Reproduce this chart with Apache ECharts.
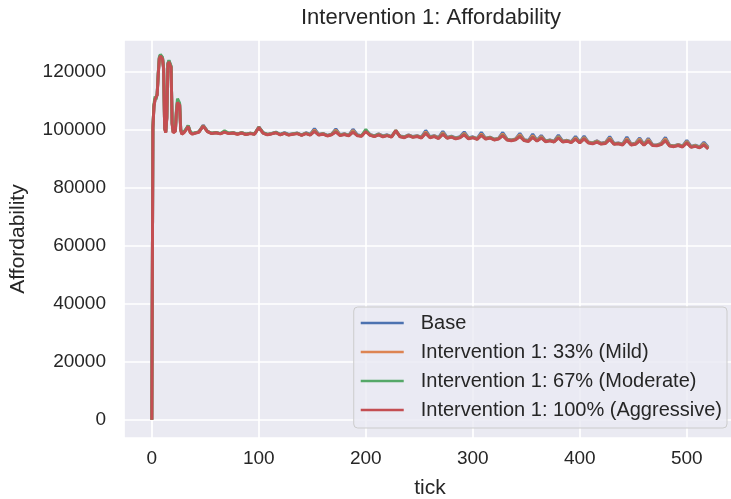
<!DOCTYPE html>
<html>
<head>
<meta charset="utf-8">
<script src="https://cdn.jsdelivr.net/npm/echarts@6/dist/echarts.min.js"></script>
<style>
  html, body { margin: 0; padding: 0; background: #fff; }
  #chart { width: 731px; height: 499px; }
</style>
</head>
<body>
<div id="chart"></div>
<script>
// tick values (x), dense at the start where the spikes are
const ticks = [
  0, 1, 2, 3, 4, 5, 6, 7, 8, 9, 10, 11, 12, 13, 14, 15, 16, 17, 18, 19,
  20, 21, 22, 23, 24, 25, 26, 27, 28, 30, 32, 34, 36, 38,
  40, 44, 48, 52, 56, 60, 64, 68, 72, 76,
  80, 84, 88, 92, 96, 100, 104, 108, 112, 116,
  120, 124, 128, 132, 136, 140, 144, 148, 152, 156,
  160, 164, 168, 172, 176, 180, 184, 188, 192, 196,
  200, 204, 208, 212, 216, 220, 224, 228, 232, 236,
  240, 244, 248, 252, 256, 260, 264, 268, 272, 276,
  280, 284, 288, 292, 296, 300, 304, 308, 312, 316,
  320, 324, 328, 332, 336, 340, 344, 348, 352, 356,
  360, 364, 368, 372, 376, 380, 384, 388, 392, 396,
  400, 404, 408, 412, 416, 420, 424, 428, 432, 436,
  440, 444, 448, 452, 456, 460, 464, 468, 472, 476,
  480, 484, 488, 492, 496, 500, 504, 508, 512, 516,
  520
];

const base = [
  0, 100800, 108300, 110300, 110200, 112300, 119300, 124800, 125800, 125300,
  124800, 121300, 100800, 99200, 104300, 122800, 123800, 123300, 121800, 102300,
  99200, 99700, 99700, 106300, 109700, 109300, 108800, 100200, 98700,
  99200, 100200, 101400, 99200, 98700,
  98900, 99300, 101600, 99500, 98800, 99100, 98700, 99300, 98800, 99000,
  98600, 99000, 98500, 98800, 98600, 101000, 99000, 98400, 98800, 99200,
  98400, 99000, 98400, 98700, 98900, 98300, 99000, 98400, 100400, 98400,
  98800, 98100, 98500, 100300, 98300, 98700, 98100, 100200, 98300, 98000,
  99700, 98400, 97900, 98600, 97900, 98300, 97700, 99500, 97900, 97600,
  98300, 97700, 98000, 97500, 99800, 97600, 98000, 97300, 99500, 97400,
  97800, 97200, 97600, 99300, 97200, 97600, 97000, 99100, 97100, 97500,
  96800, 97100, 99100, 96800, 96500, 96900, 98800, 96600, 96300, 98500,
  96400, 98100, 96200, 96500, 96100, 98200, 96100, 96400, 95900, 97700,
  95800, 97800, 95800, 95500, 96200, 95400, 95700, 97700, 95300, 95500,
  95100, 97500, 95100, 95400, 97200, 95000, 97100, 94900, 94800, 95300,
  97400, 94700, 94500, 95000, 94400, 96400, 94300, 94700, 94100, 95700,
  94000
];

const mild = [
  0, 100700, 108200, 110600, 110100, 112200, 119200, 124700, 125700, 125200,
  124700, 121200, 100600, 99100, 104200, 122700, 123700, 123200, 121700, 102200,
  99100, 99600, 99600, 106200, 109600, 109200, 108700, 100100, 98600,
  99100, 100100, 101300, 99100, 98600,
  98900, 99300, 101500, 99400, 98800, 99000, 98700, 99200, 98800, 98900,
  98500, 99000, 98400, 98800, 98500, 100900, 98900, 98400, 98700, 99100,
  98300, 98900, 98300, 98600, 98800, 98200, 98900, 98300, 100000, 98300,
  98700, 98000, 98400, 99900, 98200, 98600, 98000, 99800, 98100, 97900,
  99600, 98300, 97800, 98500, 97800, 98200, 97600, 99600, 97800, 97500,
  98200, 97600, 97900, 97400, 99300, 97500, 97900, 97200, 99000, 97300,
  97700, 97100, 97500, 98800, 97100, 97500, 96900, 98600, 97000, 97400,
  96700, 97000, 98600, 96700, 96400, 96800, 98300, 96500, 96200, 98000,
  96300, 97700, 96100, 96400, 96000, 97700, 96000, 96300, 95800, 97300,
  95700, 97400, 95700, 95400, 96100, 95300, 95600, 97200, 95200, 95400,
  95000, 97000, 95000, 95300, 96800, 94900, 96700, 94800, 94700, 95200,
  96900, 94600, 94400, 94900, 94300, 96000, 94200, 94600, 94000, 95300,
  93800
];

const moderate = [
  0, 101000, 108800, 111500, 110500, 112600, 119600, 125000, 126000, 125500,
  125000, 121500, 100700, 99300, 104600, 123000, 124000, 123500, 122000, 102400,
  99300, 99800, 99800, 107000, 110800, 110000, 109200, 100300, 98800,
  99300, 100300, 101500, 99300, 98800,
  98900, 99300, 101400, 99500, 98800, 99100, 98700, 99700, 98800, 99000,
  98600, 99000, 98500, 98800, 98600, 100900, 99000, 98400, 98700, 99100,
  98400, 98900, 98300, 98600, 98800, 98200, 98800, 98300, 99600, 98300,
  98600, 98000, 98400, 99400, 98100, 98500, 98000, 99300, 98100, 97900,
  100200, 98200, 97800, 98400, 97700, 98100, 97600, 99800, 97700, 97400,
  98100, 97500, 97800, 97300, 98900, 97400, 97800, 97100, 98600, 97200,
  97600, 97000, 97400, 98400, 97000, 97400, 96800, 98200, 96900, 97300,
  96600, 96900, 98100, 96600, 96300, 96700, 97800, 96400, 96100, 97500,
  96200, 97300, 96000, 96300, 95900, 97300, 95900, 96200, 95700, 96900,
  95600, 97000, 95600, 95300, 95900, 95200, 95400, 96800, 95100, 95300,
  94900, 96500, 94900, 95100, 96300, 94800, 96200, 94700, 94600, 95000,
  96400, 94500, 94300, 94700, 94200, 95600, 94100, 94400, 93900, 94900,
  93500
];

const aggressive = [
  0, 100500, 108000, 110500, 110000, 112000, 119000, 124500, 125500, 125000,
  124500, 121000, 100500, 99000, 104000, 122500, 123500, 123000, 121500, 102000,
  99000, 99500, 99500, 106000, 109500, 109000, 108500, 100000, 98500,
  99000, 100000, 101200, 99000, 98500,
  98800, 99200, 101300, 99400, 98700, 99000, 98600, 99200, 98700, 98900,
  98500, 98900, 98400, 98700, 98500, 100800, 98900, 98300, 98600, 99000,
  98300, 98800, 98200, 98500, 98700, 98100, 98700, 98200, 99500, 98200,
  98500, 97900, 98300, 99300, 98000, 98400, 97900, 99200, 98000, 97800,
  99400, 98100, 97700, 98300, 97600, 98000, 97500, 99800, 97600, 97300,
  98000, 97400, 97700, 97200, 98800, 97300, 97700, 97000, 98500, 97100,
  97500, 96900, 97300, 98300, 96900, 97300, 96700, 98100, 96800, 97200,
  96500, 96800, 98000, 96500, 96200, 96600, 97700, 96300, 96000, 97400,
  96100, 97200, 95900, 96200, 95800, 97200, 95800, 96100, 95600, 96800,
  95500, 96900, 95500, 95200, 95800, 95100, 95300, 96700, 95000, 95200,
  94800, 96400, 94800, 95000, 96200, 94700, 96100, 94600, 94500, 94900,
  96300, 94400, 94200, 94600, 94100, 95500, 94000, 94300, 93800, 94800,
  93400
];

const seriesNames = [
  "Base",
  "Intervention 1: 33% (Mild)",
  "Intervention 1: 67% (Moderate)",
  "Intervention 1: 100% (Aggressive)"
];
const seriesValues = [base, mild, moderate, aggressive];
const colors = ["#4c72b0", "#dd8452", "#55a868", "#c44e52"];

const textColor = "#262626";
const fontFamily = "'Liberation Sans', Arial, sans-serif";

let chart = echarts.init(document.getElementById("chart"));

// one line per scenario, pairs of [tick, value]
let series = seriesValues.map((vals, i) => ({
  name: seriesNames[i],
  type: "line",
  showSymbol: false,
  symbol: "none",
  data: ticks.map((t, j) => [t, vals[j]]),
  lineStyle: { width: 3, color: colors[i] },
  itemStyle: { color: colors[i] },
  z: 2 + i
}));

let option = {
  animation: false,
  backgroundColor: "#ffffff",
  textStyle: { fontFamily: fontFamily, color: textColor },
  title: {
    text: "Intervention 1: Affordability",
    left: 431,
    top: 7,
    textAlign: "center",
    padding: 0,
    textStyle: { fontSize: 22, fontWeight: "normal", color: textColor, fontFamily: fontFamily }
  },
  grid: {
    left: 124,
    top: 40,
    width: 612,
    height: 398,
    show: true,
    backgroundColor: "#eaeaf2",
    borderWidth: 0,
    containLabel: false,
    outerBoundsMode: "none"
  },
  legend: {
    orient: "vertical",
    right: 4,
    bottom: 71,
    data: seriesNames,
    icon: "rect",
    itemWidth: 43,
    itemHeight: 2.6,
    itemGap: 9,
    padding: [6, 5, 8, 7],
    backgroundColor: "rgba(234,234,242,0.8)",
    borderColor: "#cccccc",
    borderWidth: 1,
    borderRadius: 4,
    textStyle: {
      fontSize: 20,
      lineHeight: 20,
      color: textColor,
      fontFamily: fontFamily,
      padding: [0, 0, 0, 12]
    }
  },
  xAxis: {
    type: "value",
    min: -26,
    max: 546,
    splitNumber: 5,
    name: "tick",
    nameLocation: "middle",
    nameGap: 40,
    nameTextStyle: { fontSize: 21, color: textColor, fontFamily: fontFamily },
    axisLine: { show: false },
    axisTick: { show: false },
    axisLabel: {
      fontSize: 19,
      color: textColor,
      margin: 11,
      showMinLabel: false,
      showMaxLabel: false
    },
    splitLine: { show: true, lineStyle: { color: "#ffffff", width: 1.7 } }
  },
  yAxis: {
    type: "value",
    min: -6300,
    max: 131000,
    splitNumber: 6,
    name: "Affordability",
    nameLocation: "middle",
    nameGap: 95,
    nameTextStyle: { fontSize: 21, color: textColor, fontFamily: fontFamily },
    axisLine: { show: false },
    axisTick: { show: false },
    axisLabel: {
      fontSize: 19,
      color: textColor,
      margin: 18,
      showMinLabel: false,
      showMaxLabel: false,
      formatter: v => String(v)
    },
    splitLine: { show: true, lineStyle: { color: "#ffffff", width: 1.7 } }
  },
  series: series
};

chart.setOption(option);
</script>
</body>
</html>
